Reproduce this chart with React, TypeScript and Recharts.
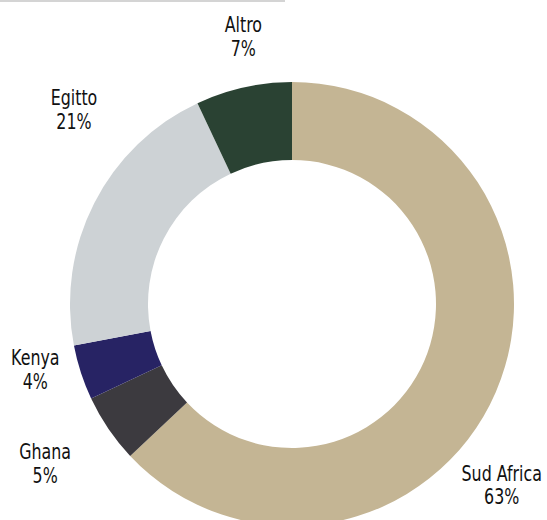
import React from 'react';
import { PieChart, Pie, Cell } from 'recharts';

const countries = ['Sud Africa', 'Ghana', 'Kenya', 'Egitto', 'Altro'];
const shares = [63, 5, 4, 21, 7];
const colors = ['#C4B594', '#3C3A3F', '#272364', '#CDD2D5', '#2A4233'];

// label placement tweaks (angle nudge in degrees, distance from centre)
const labelTweaks: Record<string, [number, number]> = {
  'Sud Africa': [-17.4, 277],
  Ghana: [-1.3, 294],
  Kenya: [-3.6, 265],
  Egitto: [-14.7, 292],
  Altro: [-2.3, 272],
};

const data = countries.map((name, i) => ({ name, value: shares[i] }));

const RAD = Math.PI / 180;

const renderLabel = (props: any) => {
  const { cx, cy, midAngle, name, value } = props;
  const [nudge, r] = labelTweaks[name] || [0, 280];
  const a = (midAngle + nudge) * RAD;
  const x = cx + Math.cos(-a) * r;
  const y = cy + Math.sin(-a) * r;
  return (
    <text
      transform={`translate(${x},${y}) scale(0.84,1)`}
      textAnchor="middle"
      fill="#111"
      fontSize={21}
      fontFamily="'DejaVu Sans Condensed', 'DejaVu Sans', sans-serif"
      style={{ fontStretch: 'condensed' }}
    >
      <tspan x={0} y={-4.5}>{name}</tspan>
      <tspan x={0} y={19.5}>{`${value}%`}</tspan>
    </text>
  );
};

export default function App() {
  return (
    <div style={{ position: 'absolute', left: 0, top: 0, width: 547, height: 520, background: '#fff', overflow: 'hidden' }}>
      <div style={{ position: 'absolute', left: 0, top: 0, width: 285, height: 2, background: '#d4d4d4' }} />
      <PieChart width={547} height={520} margin={{ top: 0, right: 0, bottom: 0, left: 0 }}>
        <Pie
          data={data}
          dataKey="value"
          nameKey="name"
          cx={292}
          cy={304}
          innerRadius={144}
          outerRadius={222}
          startAngle={90}
          endAngle={-270}
          stroke="none"
          label={renderLabel}
          labelLine={false}
          isAnimationActive={false}
        >
          {data.map((d, i) => (
            <Cell key={d.name} fill={colors[i]} />
          ))}
        </Pie>
      </PieChart>
    </div>
  );
}
